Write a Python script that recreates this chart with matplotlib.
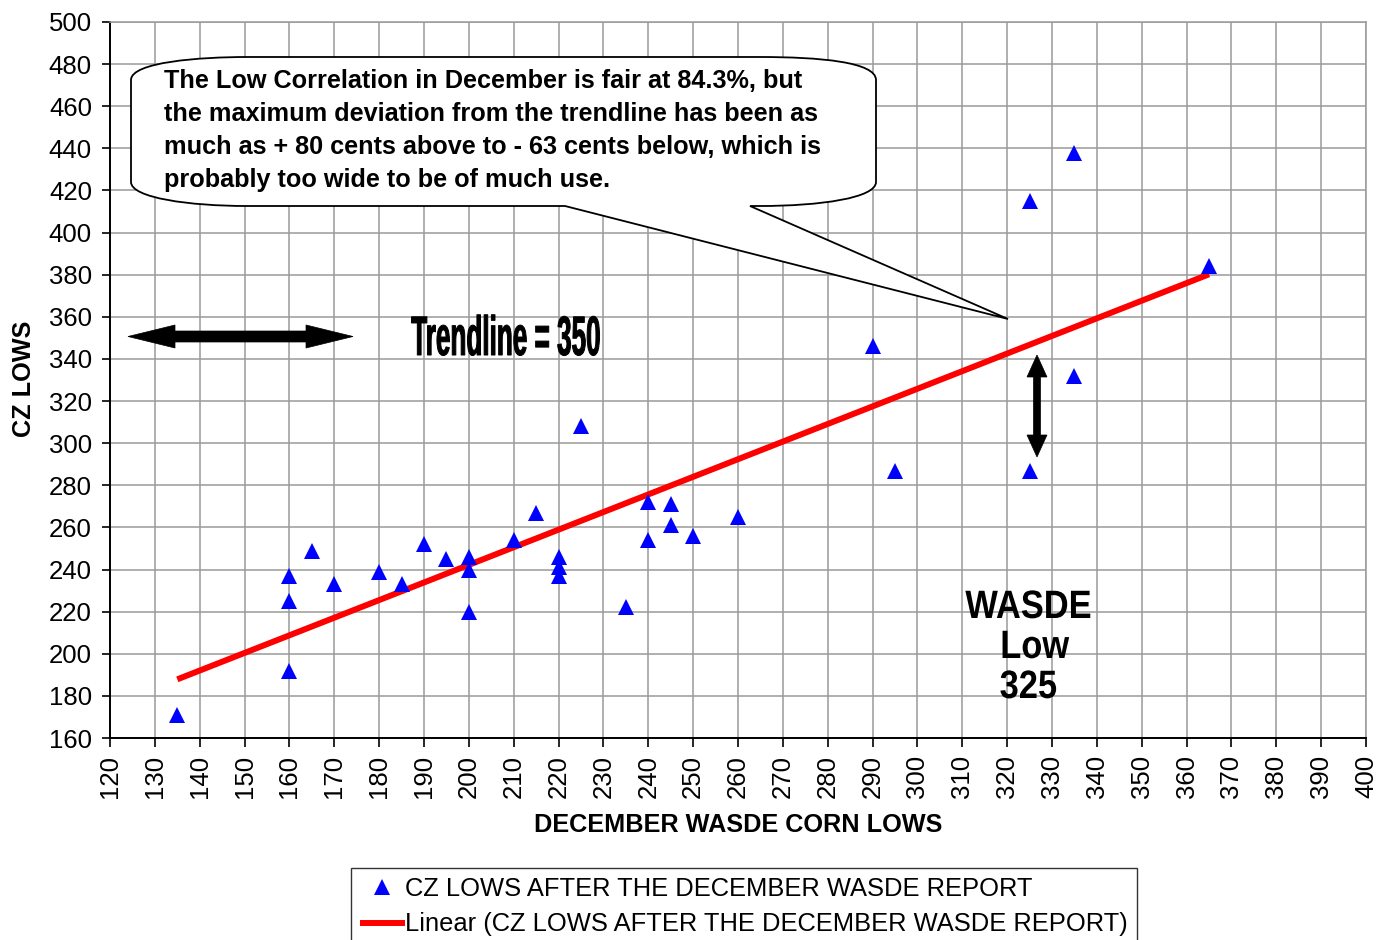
import numpy as np
import matplotlib
matplotlib.use("Agg")
import matplotlib.pyplot as plt
from matplotlib.path import Path
from matplotlib.patches import PathPatch, Polygon
from matplotlib.transforms import Affine2D
from matplotlib.lines import Line2D
from matplotlib.patheffects import AbstractPathEffect

# ---- data ----
wasde_lows = [135, 160, 160, 160, 165, 170, 180, 185, 190, 195, 200, 200, 200,
              210, 215, 220, 220, 220, 225, 235, 240, 240, 245, 245, 250, 260,
              290, 295, 325, 325, 335, 335, 365]
cz_lows = [171, 192, 225, 237, 249, 233, 239, 233, 252, 245, 246, 240, 220,
           254, 267, 246, 241, 237, 308, 222, 272, 254, 271, 261, 256, 265,
           346, 287, 415, 287, 438, 332, 384]
x_ticks = list(range(120, 401, 10))
y_ticks = list(range(160, 501, 20))
series_label = "CZ LOWS AFTER THE DECEMBER WASDE REPORT"
trend_label = "Linear (CZ LOWS AFTER THE DECEMBER WASDE REPORT)"
callout_lines = [
    "The Low Correlation in December is fair at 84.3%, but",
    "the maximum deviation from the trendline has been as",
    "much as + 80 cents above to - 63 cents below, which is",
    "probably too wide to be of much use.",
]

W, H = 1377, 940
plt.rcParams['font.family'] = ['Liberation Sans', 'DejaVu Sans']


class Stretch(AbstractPathEffect):
    """Horizontally condense the rendered text about its own centre."""
    def __init__(self, sx=1.0, sy=1.0, stroke=0.0):
        super().__init__()
        self.sx, self.sy, self.stroke = sx, sy, stroke

    def draw_path(self, renderer, gc, tpath, affine, rgbFace=None):
        ext = tpath.get_extents(affine)
        cx, cy = (ext.x0 + ext.x1) / 2, (ext.y0 + ext.y1) / 2
        tr = affine + Affine2D().translate(-cx, -cy).scale(self.sx, self.sy).translate(cx, cy)
        gc0 = renderer.new_gc()
        gc0.copy_properties(gc)
        if self.stroke > 0:
            gc0.set_linewidth(self.stroke)
            gc0.set_foreground(rgbFace if rgbFace is not None else 'black')
        else:
            gc0.set_linewidth(0)
        renderer.draw_path(gc0, tpath, tr, rgbFace)
        gc0.restore()


fig = plt.figure(figsize=(W / 100, H / 100), dpi=100)
ax = fig.add_axes([110 / W, 1 - 738 / H, (1366 - 110) / W, (738 - 22) / H])

x = np.array(wasde_lows, dtype=float)
y = np.array(cz_lows, dtype=float)

# trendline (least squares)
m, b = np.polyfit(x, y, 1)
xt = np.array([x.min(), x.max()])
ax.plot(xt, m * xt + b, color='#ff0000', lw=4.3, solid_capstyle='butt', zorder=3)
ax.plot(x, y, linestyle='none', marker='^', color='#0000ff', markersize=11,
        markeredgewidth=0, zorder=4)

ax.set_xlim(120, 400)
ax.set_ylim(160, 500)
ax.set_xticks(x_ticks)
ax.set_yticks(y_ticks)
ax.tick_params(axis='x', labelsize=18.5, rotation=90, length=6.5, width=1.2, pad=6, direction='out')
ax.tick_params(axis='y', labelsize=18.5, length=6, width=1.2, pad=7, direction='out')
ax.grid(True, color='#9a9a9a', lw=1.1, zorder=0)
ax.set_axisbelow(True)
for s in ['top', 'right']:
    ax.spines[s].set_color('#9a9a9a')
    ax.spines[s].set_linewidth(1.1)
for s in ['left', 'bottom']:
    ax.spines[s].set_color('black')
    ax.spines[s].set_linewidth(1.4)

fig.text(24 / W, 1 - 379 / H, "CZ LOWS", rotation=90, ha='center', va='center',
         fontsize=18.2, fontweight='bold')
fig.text(738.5 / W, 1 - 825 / H, "DECEMBER WASDE CORN LOWS", ha='center', va='center',
         fontsize=18.2, fontweight='bold')

# pixel transform (top-left origin)
pix = Affine2D().scale(1, -1).translate(0, H)

# callout bubble
verts = [
    (131, 80),
    (131, 62), (200, 57), (247, 57),
    (760, 57),
    (820, 57), (876, 62), (876, 80),
    (876, 182),
    (876, 198), (820, 206), (760, 206),
    (750, 206),
    (1008, 319),
    (565, 206),
    (247, 206),
    (190, 206), (131, 198), (131, 182),
    (131, 80),
]
codes = [Path.MOVETO,
         Path.CURVE4, Path.CURVE4, Path.CURVE4,
         Path.LINETO,
         Path.CURVE4, Path.CURVE4, Path.CURVE4,
         Path.LINETO,
         Path.CURVE4, Path.CURVE4, Path.CURVE4,
         Path.LINETO, Path.LINETO, Path.LINETO, Path.LINETO,
         Path.CURVE4, Path.CURVE4, Path.CURVE4,
         Path.CLOSEPOLY]
bubble = PathPatch(Path(verts, codes), facecolor='white', edgecolor='black', lw=1.3,
                   transform=pix, zorder=5)
fig.add_artist(bubble)
for i, line in enumerate(callout_lines):
    fig.text(164 / W, 1 - (88 + 33 * i) / H, line, ha='left', va='baseline',
             fontsize=18.2, fontweight='bold', zorder=6)

# horizontal double arrow
harrow = Polygon([(128, 336.5), (175, 325), (175, 331), (306, 331), (306, 325),
                  (353, 336.5), (306, 348), (306, 342), (175, 342), (175, 348)],
                 closed=True, facecolor='black', edgecolor='black', lw=0.5,
                 transform=pix, zorder=5)
fig.add_artist(harrow)

# vertical double arrow
varrow = Polygon([(1037, 355), (1047, 377), (1040.5, 377), (1040.5, 435), (1047, 435),
                  (1037, 457), (1027, 435), (1033.5, 435), (1033.5, 377), (1027, 377)],
                 closed=True, facecolor='black', edgecolor='black', lw=0.5,
                 transform=pix, zorder=5)
fig.add_artist(varrow)

fig.text(506 / W, 1 - 355 / H, "Trendline = 350", ha='center', va='baseline',
         fontsize=40, fontweight='bold', path_effects=[Stretch(0.47, 1.0, 0.7)])
for txt, cx, base in [("WASDE", 1028.5, 618), ("Low", 1034.5, 658), ("325", 1028.5, 698)]:
    fig.text(cx / W, 1 - base / H, txt, ha='center', va='baseline',
             fontsize=28.5, fontweight='bold', path_effects=[Stretch(0.87, 1.0, 0.0)])

# legend
handles = [
    Line2D([], [], linestyle='none', marker='^', color='#0000ff', markersize=11, markeredgewidth=0),
    Line2D([], [], color='#ff0000', lw=4.3, solid_capstyle='butt'),
]
leg = fig.legend(handles, [series_label, trend_label], loc='upper left',
                 bbox_to_anchor=(351 / W, 1 - 868 / H), bbox_transform=fig.transFigure,
                 borderaxespad=0, fontsize=18.4, handlelength=1.75, handletextpad=0.02,
                 borderpad=0.35, labelspacing=0.45, frameon=True, fancybox=False,
                 edgecolor='#333333', framealpha=1)
leg.get_frame().set_linewidth(1.0)

fig.savefig("out.png", dpi=100)
